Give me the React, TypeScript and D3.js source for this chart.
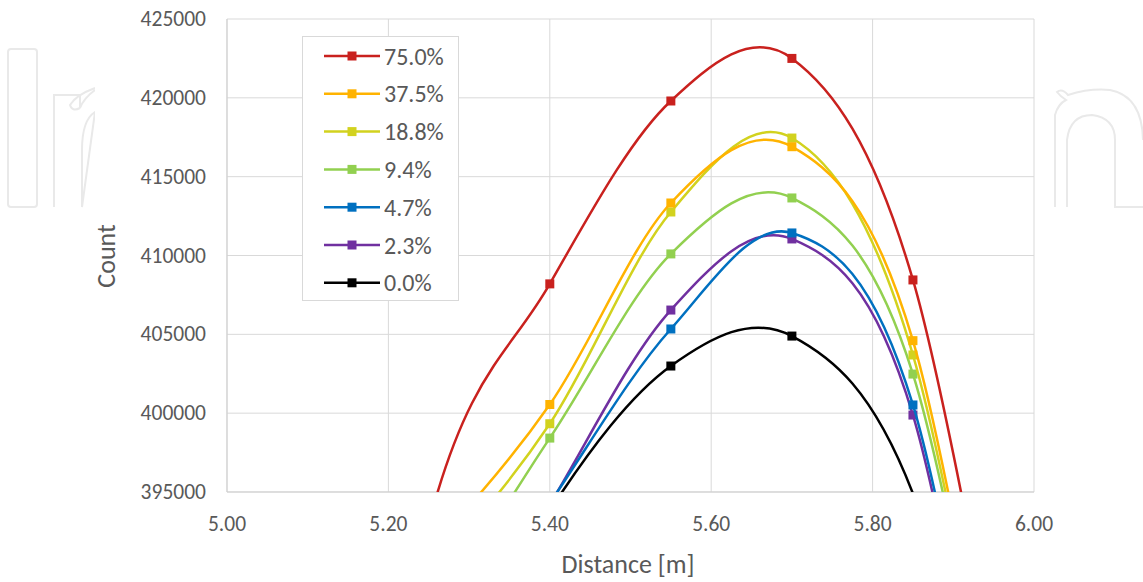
import React from "react";
import * as d3 from "d3";

const distances = [5.1, 5.25, 5.4, 5.55, 5.7, 5.85, 6.0];
const seriesNames = ["75.0%", "37.5%", "18.8%", "9.4%", "4.7%", "2.3%", "0.0%"];
const seriesColors = ["#C9211E", "#FFB300", "#D2D21E", "#92D050", "#0070C0", "#7030A0", "#000000"];
const count75 = [350000, 393000, 408200, 419800, 422500, 408450, 370000];
const count375 = [385000, 391400, 400550, 413330, 416900, 404600, 365000];
const count188 = [383000, 389900, 399330, 412760, 417450, 403690, 365000];
const count94 = [382000, 387300, 398420, 410100, 413650, 402480, 365000];
const count47 = [375000, 382800, 394300, 405340, 411430, 400520, 361000];
const count23 = [373000, 381000, 394200, 406540, 411050, 399880, 360000];
const count00 = [372000, 379600, 393830, 402990, 404890, 394900, 365000];
const seriesValues = [count75, count375, count188, count94, count47, count23, count00];
const xTicks = [5.0, 5.2, 5.4, 5.6, 5.8, 6.0];
const yTicks = [395000, 400000, 405000, 410000, 415000, 420000, 425000];

const W = 1143;
const H = 582;
const L = 227, R = 1034, T = 19, B = 492;
const FONT = "Carlito, Calibri, 'Liberation Sans Narrow', 'Liberation Sans', sans-serif";
const TXT = "#595959";
const GRID = "#d9d9d9";
const WM = "#e9e9e9";

export default function App() {
  const x = d3.scaleLinear().domain([5.0, 6.0]).range([L, R]);
  const y = d3.scaleLinear().domain([395000, 425000]).range([B, T]);
  const line = d3
    .line<[number, number]>()
    .x((d) => x(d[0]))
    .y((d) => y(d[1]))
    .curve(d3.curveCardinal.tension(0));

  return (
    <svg width={W} height={H} style={{ position: "absolute", left: 0, top: 0 }}>
      <rect x={0} y={0} width={W} height={H} fill="#fff" />
      {/* faint watermark outlines */}
      <g fill="none" stroke={WM} strokeWidth={2}>
        <rect x={8} y={49} width={29} height={158} rx={3} />
        <path d="M54,207 L54,95 L80,95 L80,108 Q84,98 95,90 M80,108 Q72,112 70,105 Q76,95 95,88 M95,112 Q82,120 82,150 L82,207 Z" />
        <path d="M1055,207 L1055,115 Q1058,104 1066,100 Q1060,96 1057,92 Q1062,88 1068,95 Q1090,88 1110,90 Q1142,96 1143,140 M1067,207 L1067,140 Q1070,115 1092,115 Q1115,118 1115,140 L1115,207 L1143,207" />
      </g>
      <rect x={95} y={0} width={950} height={H} fill="#fff" />
      <defs>
        <clipPath id="plotclip">
          <rect x={L} y={T} width={R - L} height={B - T} />
        </clipPath>
      </defs>
      {/* grid */}
      <g>
        {yTicks.map((v) => (
          <line key={"gy" + v} x1={L} x2={R} y1={y(v)} y2={y(v)} stroke={GRID} strokeWidth={1} />
        ))}
        {xTicks.map((v) => (
          <line key={"gx" + v} x1={x(v)} x2={x(v)} y1={T} y2={B} stroke={GRID} strokeWidth={1} />
        ))}
        <line x1={L} x2={L} y1={T} y2={B} stroke="#cfcfcf" strokeWidth={1} />
        <line x1={L} x2={R} y1={B} y2={B} stroke="#cfcfcf" strokeWidth={1} />
      </g>
      {/* tick labels */}
      <g fontFamily={FONT} fontSize={21.5} fill={TXT}>
        {yTicks.map((v) => (
          <text key={"ty" + v} x={L - 21} y={y(v)} textAnchor="end" dominantBaseline="central">
            {v}
          </text>
        ))}
        {xTicks.map((v) => (
          <text key={"tx" + v} x={x(v)} y={524} textAnchor="middle" dominantBaseline="central">
            {v.toFixed(2)}
          </text>
        ))}
      </g>
      <text x={628} y={564} textAnchor="middle" dominantBaseline="central" fontFamily={FONT} fontSize={26} fill={TXT}>
        Distance [m]
      </text>
      <text
        transform={`translate(106,256) rotate(-90)`}
        textAnchor="middle"
        dominantBaseline="central"
        fontFamily={FONT}
        fontSize={26}
        fill={TXT}
      >
        Count
      </text>
      {/* series */}
      <g clipPath="url(#plotclip)">
        {seriesValues
          .map((vals, i) => ({ vals, i }))
          .reverse()
          .map(({ vals, i }) => {
            const pts: [number, number][] = distances.map((d, j) => [d, vals[j]]);
            return (
              <g key={"s" + i}>
                <path d={line(pts) || ""} fill="none" stroke={seriesColors[i]} strokeWidth={2.5} />
                {pts
                  .filter((p) => p[1] >= 395000 && p[1] <= 425000 && p[0] >= 5 && p[0] <= 6)
                  .map((p, j) => (
                    <rect
                      key={j}
                      x={x(p[0]) - 4.5}
                      y={y(p[1]) - 4.5}
                      width={9}
                      height={9}
                      fill={seriesColors[i]}
                    />
                  ))}
              </g>
            );
          })}
      </g>
      {/* legend */}
      <g>
        <rect x={302.5} y={36.5} width={156} height={264} fill="#fff" stroke={GRID} strokeWidth={1} />
        {seriesNames.map((n, i) => {
          const cy = 56 + i * 37.8;
          return (
            <g key={"lg" + n}>
              <line x1={324} x2={380} y1={cy} y2={cy} stroke={seriesColors[i]} strokeWidth={2.5} />
              <rect x={352 - 4.5} y={cy - 4.5} width={9} height={9} fill={seriesColors[i]} />
              <text x={384} y={cy} dominantBaseline="central" fontFamily={FONT} fontSize={24} fill={TXT}>
                {n}
              </text>
            </g>
          );
        })}
      </g>
    </svg>
  );
}
